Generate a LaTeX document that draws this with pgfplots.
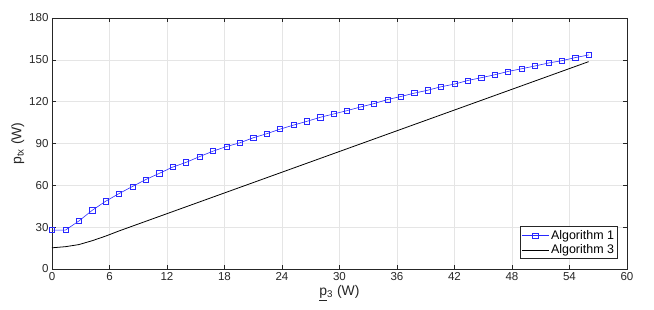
\documentclass[border=0pt]{standalone}
\usepackage{pgfplots}
\pgfplotsset{compat=1.18}
\usepackage{fontspec}
\setmainfont{Liberation Sans}
\definecolor{axgray}{RGB}{38,38,38}
\definecolor{mblue}{RGB}{40,40,255}
\begin{document}
\begin{tikzpicture}
\begin{axis}[
  scale only axis, width=575bp, height=251bp,
  xmin=0, xmax=60, ymin=0, ymax=180,
  xtick={0,6,...,60}, ytick={0,30,...,180},
  grid=major, major grid style={gray!20, line width=0.5pt},
  tick align=inside, tick pos=both, major tick length=4bp,
  axis line style={axgray, line width=0.5pt},
  every tick/.style={axgray, line width=0.5pt},
  tick label style={font=\fontsize{11.6}{13}\selectfont, text=axgray},
  /pgf/number format/assume math mode=true,
  xlabel={\underline{p}\textsubscript{3} (W)},
  ylabel={p\textsubscript{tx} (W)},
  label style={font=\fontsize{14}{16}\selectfont, text=axgray},
  xlabel style={yshift=2bp},
  ylabel style={yshift=-2bp},
  legend style={at={(0.984,0.04)}, anchor=south east, font=\fontsize{12.5}{15}\selectfont,
    draw=axgray, line width=0.5pt, inner sep=1.5pt, row sep=0pt, text=black},
  legend cell align=left,
  legend image code/.code={\draw[mark repeat=2,mark phase=2,#1] plot coordinates {(0cm,0cm)(0.47cm,0cm)(0.94cm,0cm)};},
]
\addplot[mblue, line width=0.6pt, mark=square, mark size=2.6bp, mark options={solid, line width=0.6pt}] coordinates {
(0,27.9)(1.4,27.9)(2.8,34.4)(4.2,42.1)(5.6,48.6)(7.0,54.1)(8.4,59.2)(9.8,64.2)(11.2,68.6)(12.6,73.1)
(14.0,76.5)(15.4,80.6)(16.8,84.5)(18.2,87.8)(19.6,90.5)(21.0,94.1)(22.4,97.0)(23.8,100.3)(25.2,103.2)
(26.6,105.9)(28.0,108.8)(29.4,111.2)(30.8,113.6)(32.2,116.2)(33.6,118.6)(35.0,121.5)(36.4,123.7)
(37.8,126.1)(39.2,128.2)(40.6,130.7)(42.0,132.6)(43.4,135.2)(44.8,137.2)(46.2,139.3)(47.6,141.7)
(49.0,143.6)(50.4,145.6)(51.8,147.7)(53.2,149.4)(54.6,151.6)(56.0,153.5)
};
\addlegendentry{Algorithm 1}
\addplot[black, line width=0.8pt] coordinates {
(0,15.2)(1.4,16.0)(2.8,17.5)(4.2,20.3)(5.6,23.6)(7.0,27.3)(56,148.7)
};
\addlegendentry{Algorithm 3}
\end{axis}
\path (current axis.south west) ++(-52bp,-41bp) rectangle ++(654bp,310bp);
\end{tikzpicture}
\end{document}
